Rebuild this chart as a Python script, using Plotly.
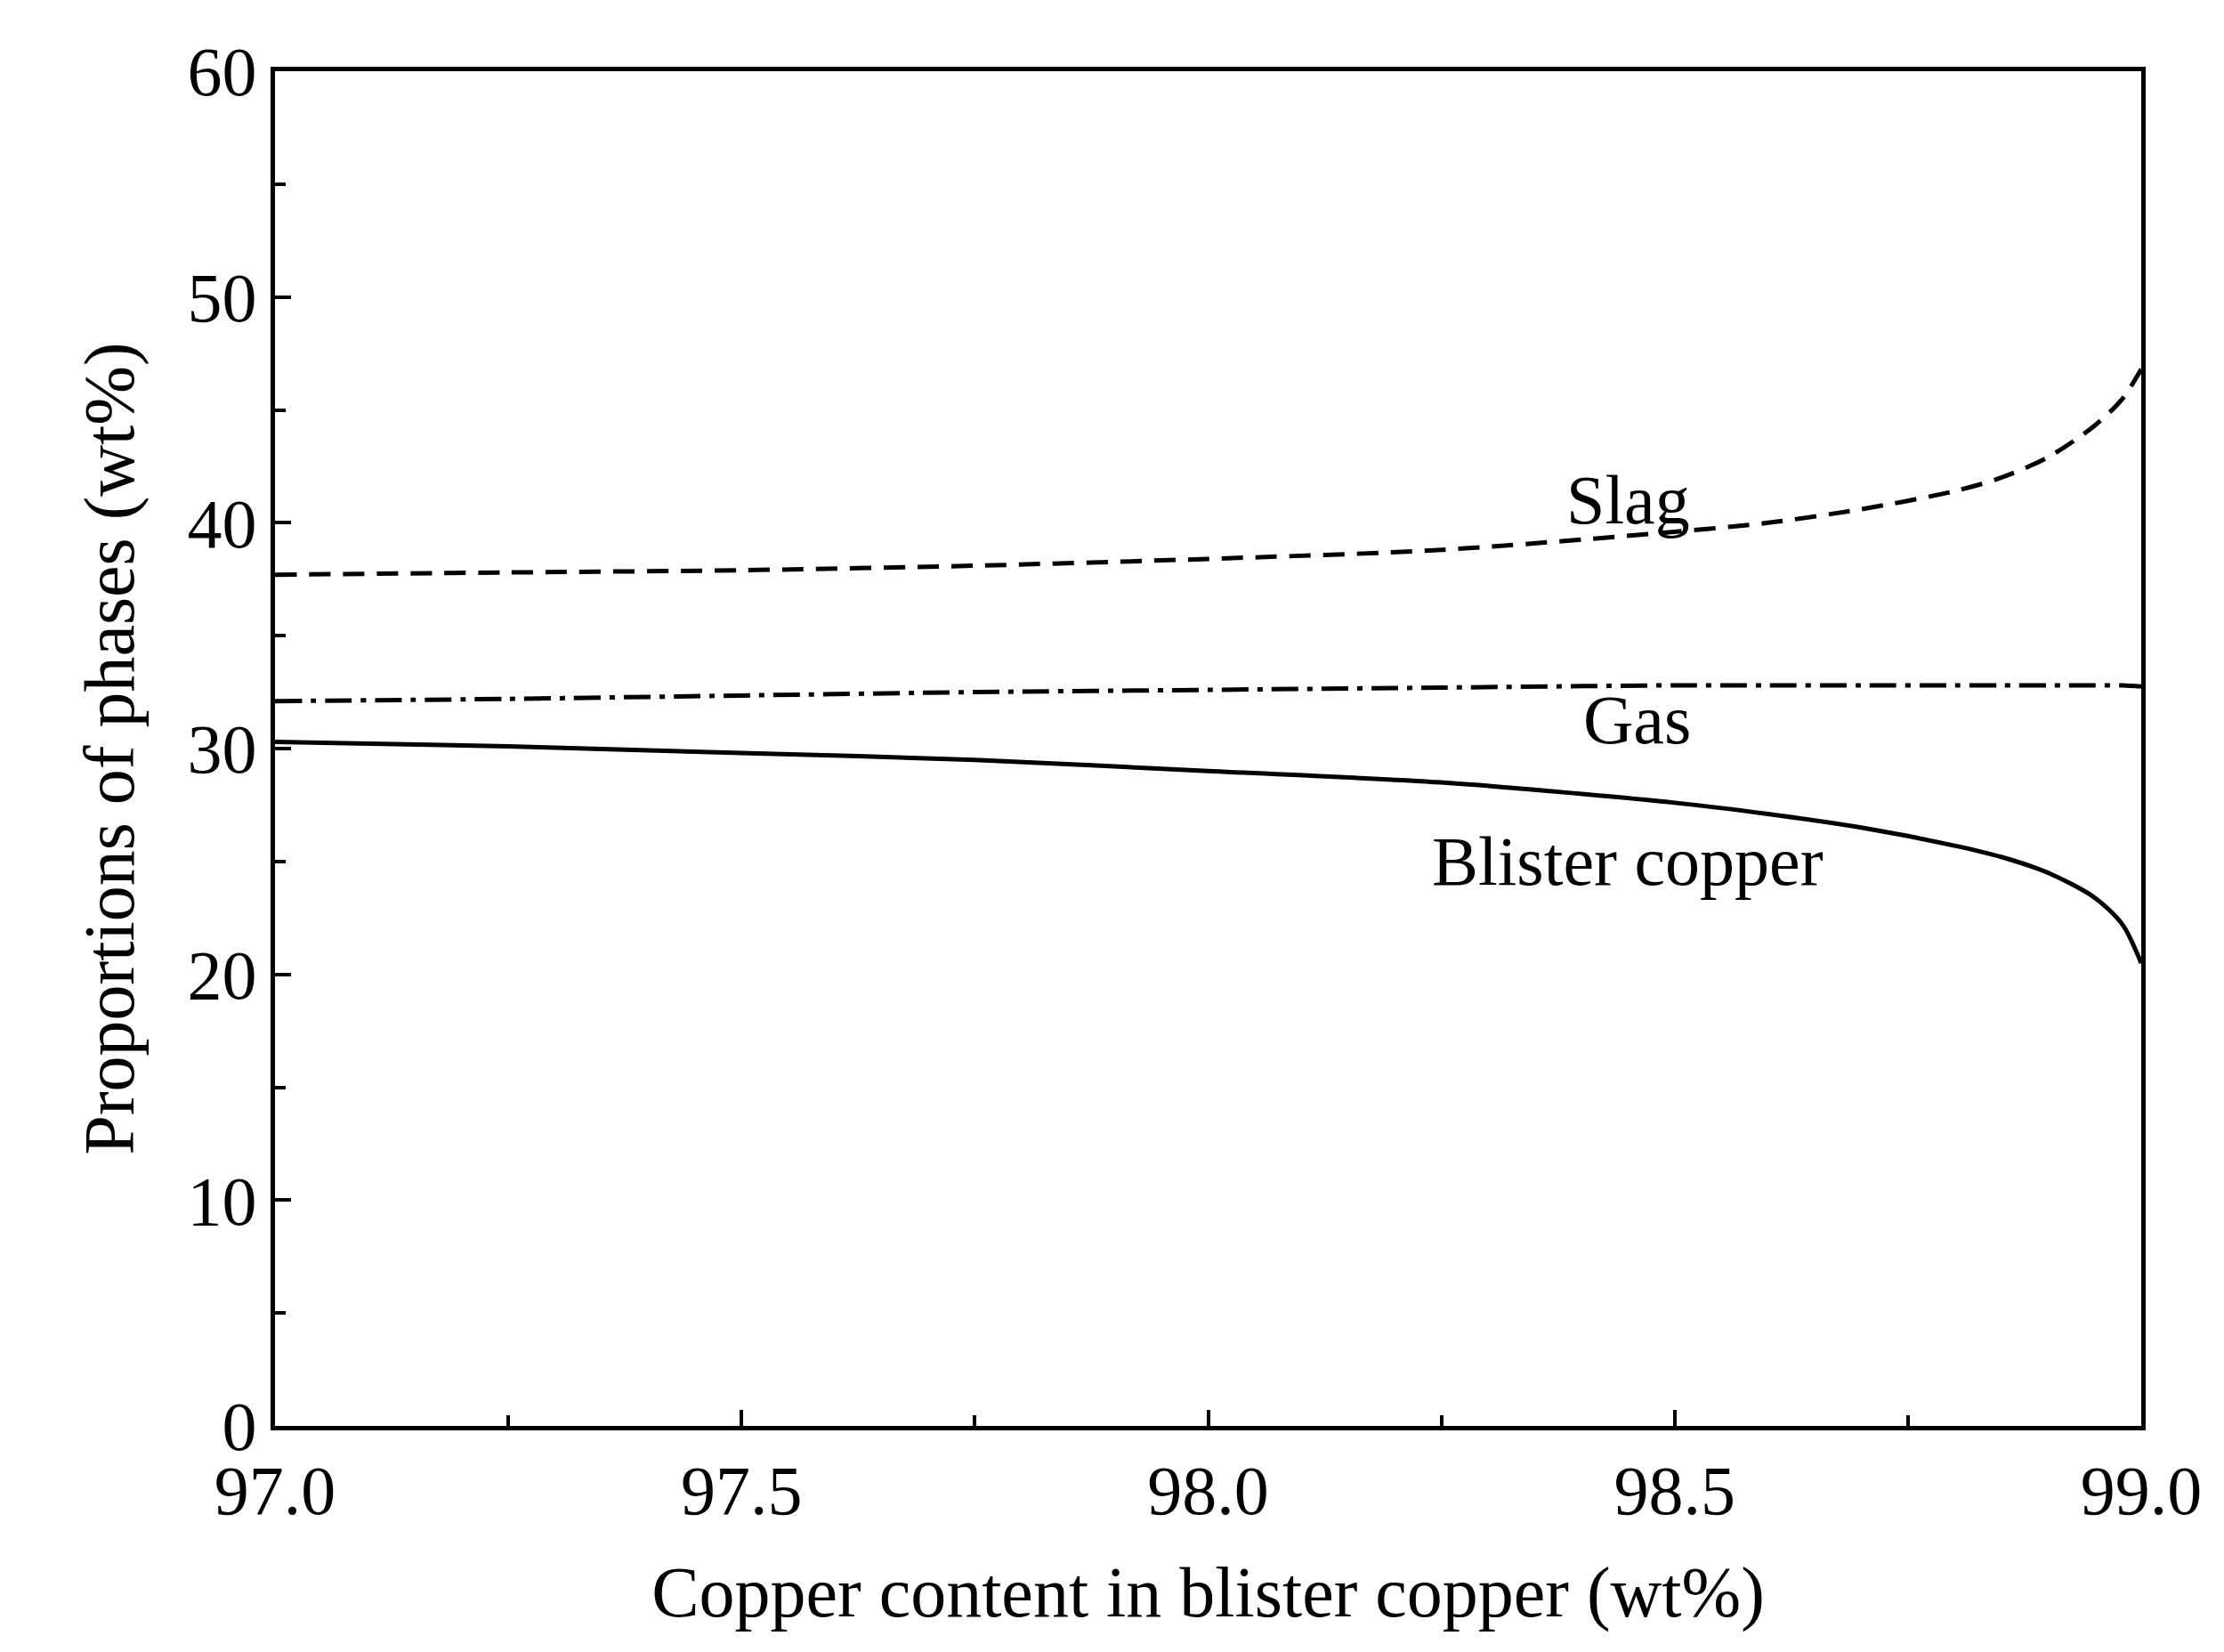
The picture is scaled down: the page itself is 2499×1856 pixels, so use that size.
import plotly.graph_objects as go

x = [97.0, 97.25, 97.5, 97.75, 98.0, 98.25, 98.5, 98.6, 98.7, 98.8, 98.85, 98.9, 98.95, 98.98, 99.0]
slag = [37.7, 37.8, 37.9, 38.1, 38.4, 38.8, 39.6, 40.0, 40.6, 41.4, 42.0, 42.9, 44.3, 45.5, 46.8]
gas = [32.1, 32.2, 32.35, 32.5, 32.6, 32.7, 32.8, 32.8, 32.8, 32.8, 32.8, 32.8, 32.8, 32.8, 32.75]
blister = [30.3, 30.1, 29.8, 29.5, 29.0, 28.5, 27.6, 27.1, 26.5, 25.7, 25.2, 24.5, 23.4, 22.2, 20.5]

font = "Liberation Serif"
fig = go.Figure()
fig.add_trace(go.Scatter(x=x, y=slag, mode="lines", line=dict(color="black", width=5, dash="24px,14px", shape="spline", smoothing=0.8)))
fig.add_trace(go.Scatter(x=x, y=gas, mode="lines", line=dict(color="black", width=5, dash="30px,10px,6px,10px", shape="spline", smoothing=0.8)))
fig.add_trace(go.Scatter(x=x, y=blister, mode="lines", line=dict(color="black", width=5, shape="spline", smoothing=0.8)))

for txt, xx, yy in [("Slag", 98.45, 41.0), ("Gas", 98.46, 31.3), ("Blister copper", 98.45, 25.0)]:
    fig.add_annotation(x=xx, y=yy, text=txt, showarrow=False, font=dict(family=font, size=78, color="black"))

ax = dict(showline=True, linecolor="black", linewidth=5, mirror=True, ticks="inside",
          ticklen=18, tickwidth=4, tickcolor="black", showgrid=False, zeroline=False,
          tickfont=dict(family=font, size=78, color="black"),
          minor=dict(ticks="inside", ticklen=12, tickwidth=4, tickcolor="black"))
fig.update_xaxes(**ax, range=[97, 99], tickvals=[97, 97.5, 98, 98.5, 99],
                 ticktext=["97.0", "97.5", "98.0", "98.5", "99.0"], minor_dtick=0.25,
                 title=dict(text="Copper content in blister copper (wt%)", font=dict(family=font, size=80, color="black"), standoff=45))
fig.update_yaxes(**ax, range=[0, 60], dtick=10, minor_dtick=5,
                 title=dict(text="Proportions of phases (wt%)", font=dict(family=font, size=80, color="black"), standoff=35))
fig.update_layout(width=2499, height=1856, plot_bgcolor="white", paper_bgcolor="white", showlegend=False,
                  margin=dict(l=301, r=101, t=72, b=262))
fig.write_html("out.html")
